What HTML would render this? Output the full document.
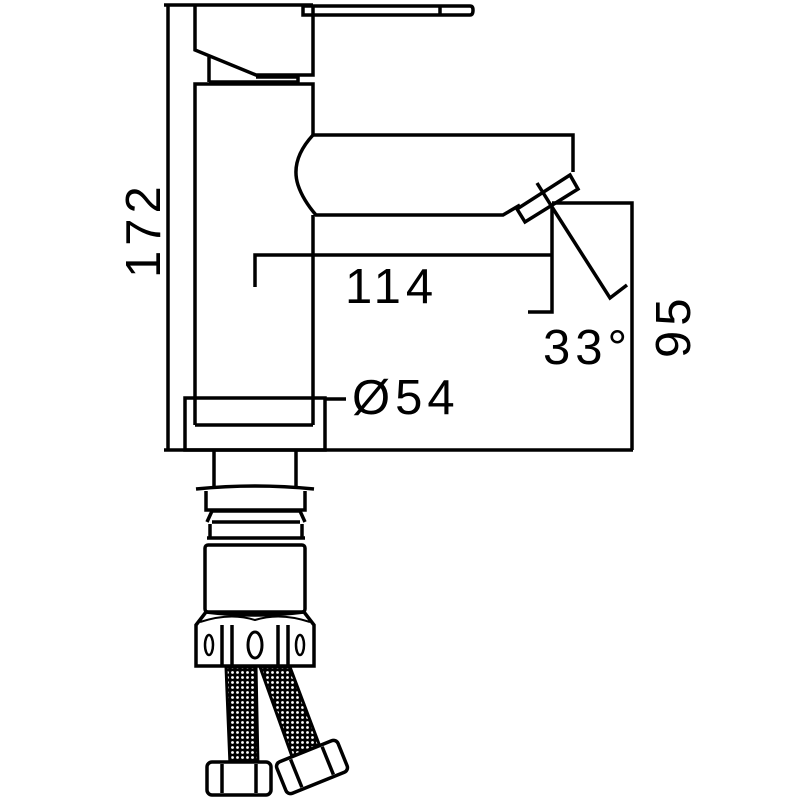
<!DOCTYPE html>
<html><head><style>body{margin:0;background:#fff}svg{display:block}</style></head><body>
<svg width="800" height="800" viewBox="0 0 800 800" xmlns="http://www.w3.org/2000/svg">
<defs>
<pattern id="mesh" width="5" height="5" patternUnits="userSpaceOnUse">
<rect width="5" height="5" fill="#000"/><circle cx="2.5" cy="2.5" r="1.4" fill="#fff"/>
</pattern>
</defs>
<g fill="none" stroke="#000" stroke-width="3.5" stroke-linejoin="miter">
<!-- 172 dimension -->
<line x1="168" y1="4" x2="168" y2="450"/>
<line x1="164" y1="5" x2="313" y2="5"/>
<line x1="164" y1="450" x2="633" y2="450"/>
<!-- lever -->
<path d="M303 6 H470 Q473 6 473 10 Q473 15 470 15 H303 Z"/>
<line x1="440" y1="6" x2="440" y2="15"/>
<!-- handle block -->
<path d="M195 6 V50 L256 75 H313 V6"/>
<path d="M209 57 V82 M209 82 H298 V77 H256"/>
<!-- body -->
<path d="M195 425 V84 H313 V135"/>
<path d="M313 215 V425"/>
<!-- spout -->
<path d="M313 135 H573 V172"/>
<path d="M313 135 Q290 160 298 185 Q303 200 316 215 H503 L520 205"/>
<!-- aerator -->
<polygon points="517,209 525,222 578,189 570,175"/>
<line x1="537" y1="183" x2="552" y2="207"/>
<!-- 95 dim -->
<path d="M552 203 H632 V450"/>
<!-- 114 dim -->
<path d="M255 287 V255 H552"/>
<path d="M552 207 V312 H528"/>
<!-- 33 deg -->
<path d="M552 207 L610 298 L627 285"/>
<!-- base -->
<rect x="185" y="398" width="140" height="52"/>
<line x1="195" y1="425" x2="313" y2="425"/>
<line x1="325" y1="399" x2="346" y2="399"/>
<!-- pipe -->
<path d="M214 450 V487 M296 450 V487"/>
<path d="M196 489 Q255 483 314 489"/>
<path d="M206 491 V510 H305 V491"/>
<line x1="212" y1="511" x2="300" y2="511"/>
<line x1="212" y1="522" x2="300" y2="522"/>
<path d="M212 511 L207 522 M300 511 L305 522"/>
<line x1="207" y1="538" x2="305" y2="538"/>
<path d="M210 524 V538 M302 524 V538"/>
<rect x="205" y="545" width="100" height="67" rx="3"/>
<!-- nut -->
<path d="M206 612 Q255 618 304 612 L314 625 V666 H196 V625 Z"/>
<line x1="222" y1="625" x2="222" y2="666"/>
<line x1="232" y1="625" x2="232" y2="666"/>
<line x1="278" y1="625" x2="278" y2="666"/>
<line x1="288" y1="625" x2="288" y2="666"/>
<ellipse cx="209" cy="645" rx="4" ry="10" stroke-width="2.5"/>
<ellipse cx="255" cy="645" rx="7" ry="13" stroke-width="3"/>
<ellipse cx="300" cy="645" rx="4" ry="10" stroke-width="2.5"/>
<path d="M200 622 Q230 612 255 620 Q280 612 310 622" stroke-width="2"/>
</g>
<!-- hoses -->
<g stroke="#000" stroke-width="3" fill="url(#mesh)">
<polygon points="226,667 256,667 258,765 230,765"/>
<polygon points="260,667 290,667 322,752 294,762"/>
</g>
<g fill="#fff" stroke="#000" stroke-width="3.5">
<rect x="207" y="762" width="64" height="33" rx="5"/>
<line x1="222" y1="764" x2="222" y2="793"/>
<line x1="256" y1="764" x2="256" y2="793"/>
<g transform="translate(312,767) rotate(-22)">
<rect x="-33" y="-17" width="66" height="34" rx="5"/>
<line x1="-17" y1="-15" x2="-17" y2="15"/>
<line x1="17" y1="-15" x2="17" y2="15"/>
</g>
</g>
<g font-family="Liberation Sans, sans-serif" font-size="49" fill="#000" letter-spacing="5">
<text x="345" y="303">114</text>
<text x="352" y="414">Ø54</text>
<text x="543" y="364">33°</text>
<text transform="translate(690,358) rotate(-90)">95</text>
<text transform="translate(160,278) rotate(-90)">172</text>
</g>
</svg>
</body></html>
